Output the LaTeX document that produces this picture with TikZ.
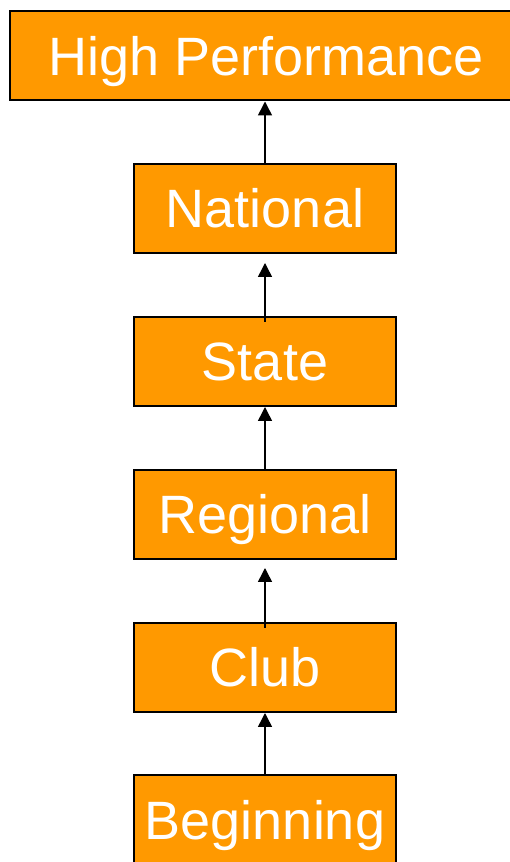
\documentclass[tikz,border=0pt]{standalone}
\usepackage{fontspec}
\setmainfont{Liberation Sans}
\usetikzlibrary{arrows.meta}
\definecolor{levelorange}{HTML}{FF9900}
\begin{document}
\begin{tikzpicture}[x=1pt,y=1pt]
    \tikzstyle{level}=[rectangle,draw=black,line width=2pt,fill=levelorange,
                       text=white,font=\fontsize{54}{60}\selectfont,
                       text height=39pt,text depth=0pt,
                       minimum width=262pt,minimum height=89pt,inner sep=0pt]
    \tikzstyle{up}=[line width=1.5pt,-{Triangle[length=14pt,width=14pt]}]
    \useasboundingbox (0,0) rectangle (510,862);

    \node[level,minimum width=512pt] (hp)    at (266,806)   {High Performance};
    \node[level] (national) at (265,653.5) {National};
    \node[level] (state)    at (265,500.5) {State};
    \node[level] (regional) at (265,347.5) {Regional};
    \node[level] (club)     at (265,194.5) {Club};
    \node[level] (begin)    at (265,42.5)  {Beginning};

    \draw[up] (national.north) -- (national.north |- hp.south);
    \draw[up,shorten <=-6pt,shorten >=9pt] (state.north) -- (national.south);
    \draw[up] (regional.north) -- (state.south);
    \draw[up,shorten <=-6pt,shorten >=8pt] (club.north) -- (regional.south);
    \draw[up] (begin.north) -- (club.south);

\end{tikzpicture}
\end{document}
